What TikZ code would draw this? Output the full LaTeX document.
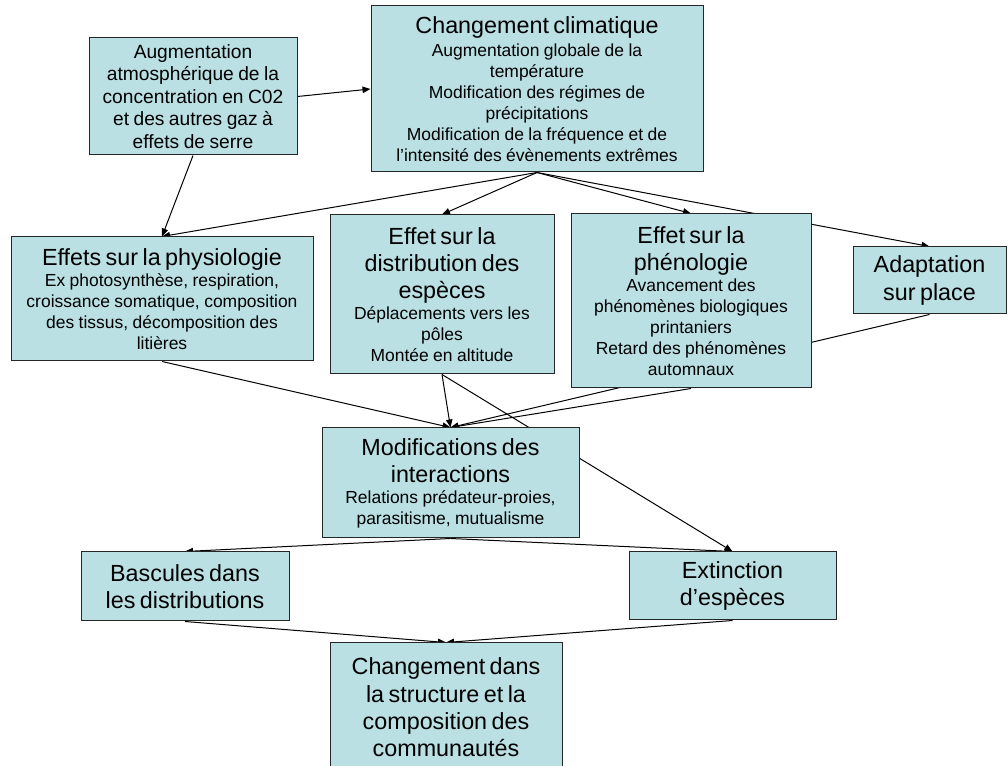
\documentclass[tikz,border=0pt]{standalone}
\usepackage{fontspec}
\setmainfont{Liberation Sans}
\usetikzlibrary{arrows.meta}
\pgfdeclarelayer{background}
\pgfsetlayers{background,main}
\definecolor{boxfill}{RGB}{186,224,227}
\newcommand\Tf{\fontsize{17.5}{20.5}\selectfont}
\newcommand\Sf{\fontsize{13.1}{15.7}\selectfont}
\newcommand\Cf{\fontsize{14.4}{16.9}\selectfont}
\tikzset{
  bx/.style={rectangle, draw=black!85, line width=0.75pt, fill=boxfill, inner sep=0pt, align=center},
  conn/.style={draw=black, line width=0.75pt, -{Triangle[length=6pt,width=4.8pt]}},
}
\begin{document}
\begin{tikzpicture}[x=0.75pt,y=-0.75pt]
\useasboundingbox (0,0) rectangle (1008,766);
\clip (0,0) rectangle (1008,766);

\node[bx, minimum width=156pt, minimum height=87.75pt, text width=150pt] (co2) at (193,96.5)
  {\Cf Augmentation\\atmosphérique de la\\concentration en C02\\et des autres gaz à\\effets de serre\par};
\node[bx, minimum width=249pt, minimum height=124.5pt, text width=243pt] (cc) at (537,89)
  {\Tf Changement climatique\par\vspace{2pt}\Sf Augmentation globale de la\\température\\Modification des régimes de\\précipitations\\Modification de la fréquence et de\\l’intensité des évènements extrêmes\par};
\node[bx, minimum width=226.5pt, minimum height=93pt, text width=220pt] (phys) at (162,299)
  {\Tf Effets sur la physiologie\par\Sf Ex photosynthèse, respiration,\\croissance somatique, composition\\des tissus, décomposition des\\litières\par};
\node[bx, minimum width=168pt, minimum height=119.25pt, text width=162pt] (dist) at (442,294.5)
  {\Tf Effet sur la\\distribution des\\espèces\par\Sf Déplacements vers les\\pôles\\Montée en altitude\par};
\node[bx, minimum width=180pt, minimum height=130.5pt, text width=174pt] (phen) at (691,301)
  {\Tf Effet sur la\\phénologie\par\Sf Avancement des\\phénomènes biologiques\\printaniers\\Retard des phénomènes\\automnaux\par};
\node[bx, minimum width=114.75pt, minimum height=50.25pt, text width=108pt] (adapt) at (929.5,280.5)
  {\Tf Adaptation\\sur place\par};
\node[bx, minimum width=192.75pt, minimum height=82.5pt, text width=186pt] (modif) at (450.5,483)
  {\Tf Modifications des\\interactions\par\Sf Relations prédateur-proies,\\parasitisme, mutualisme\par};
\node[bx, minimum width=156pt, minimum height=51.75pt, text width=150pt] (basc) at (185,586.5)
  {\Tf Bascules dans\\les distributions\par};
\node[bx, minimum width=155.25pt, minimum height=51pt, text width=149pt] (ext) at (732.5,586)
  {\Tf Extinction\\d’espèces\par};
\node[bx, minimum width=174pt, minimum height=96.75pt, text width=168pt] (chg) at (446,707.5)
  {\Tf Changement dans\\la structure et la\\composition des\\communautés\par};

\begin{pgfonlayer}{background}
\draw[conn] (co2.east) -- (cc.west);
\draw[conn] (co2.south) -- (phys.north);
\draw[conn] (cc.south) -- (phys.north);
\draw[conn] (cc.south) -- (dist.north);
\draw[conn] (cc.south) -- (phen.north);
\draw[conn] (cc.south) -- (adapt.north);
\draw[conn] (phys.south) -- (modif.north);
\draw[conn] (dist.south) -- (modif.north);
\draw[conn] (phen.south) -- (modif.north);
\draw[conn] (adapt.south) -- (modif.north);
\draw[conn] (dist.south) -- (ext.north);
\draw[conn] (modif.south) -- (basc.north);
\draw[conn] (modif.south) -- (ext.north);
\draw[conn] (basc.south) -- (chg.north);
\draw[conn] (ext.south) -- (chg.north);
\end{pgfonlayer}
\end{tikzpicture}
\end{document}
